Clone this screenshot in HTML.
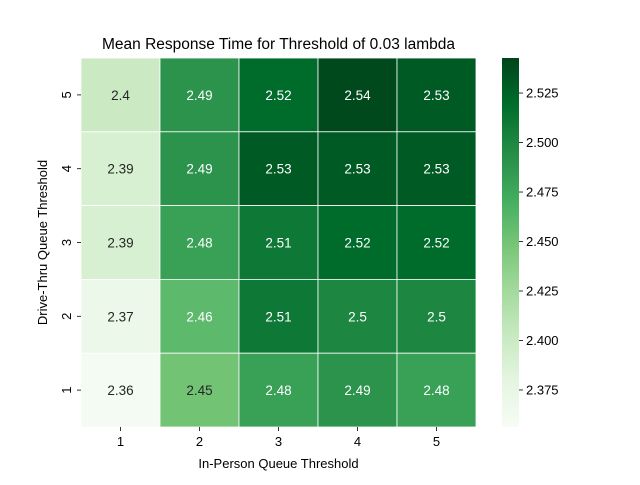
<!DOCTYPE html>
<html><head><meta charset="utf-8"><style>
body{margin:0;background:#fff;}
svg{font-family:"Liberation Sans","DejaVu Sans",sans-serif;}
</style></head><body>
<svg id="chart" width="640" height="480"></svg>
<script>
const xCategories=[1,2,3,4,5];
const yCategories=[5,4,3,2,1];
const cellValues=[
[2.40,2.49,2.52,2.54,2.53],
[2.39,2.49,2.53,2.53,2.53],
[2.39,2.48,2.51,2.52,2.52],
[2.37,2.46,2.51,2.50,2.50],
[2.36,2.45,2.48,2.49,2.48]];
const cellLabels=[
["2.4","2.49","2.52","2.54","2.53"],
["2.39","2.49","2.53","2.53","2.53"],
["2.39","2.48","2.51","2.52","2.52"],
["2.37","2.46","2.51","2.5","2.5"],
["2.36","2.45","2.48","2.49","2.48"]];
const colorbarTicks=[2.375,2.4,2.425,2.45,2.475,2.5,2.525];
const vmin=2.3563, vmax=2.5427;

const NS="http://www.w3.org/2000/svg";
const svg=document.getElementById('chart');
function mk(t,a,txt){const e=document.createElementNS(NS,t);for(const k in a)e.setAttribute(k,a[k]);if(txt!==undefined)e.textContent=txt;svg.appendChild(e);return e;}
const L=81,R=476,T=58,B=427;
const cw=(R-L)/xCategories.length, ch=(B-T)/yCategories.length;
const stops=["#f7fcf5","#e5f5e0","#c7e9c0","#a1d99b","#74c476","#41ab5d","#238b45","#006d2c","#00441b"].map(h=>[parseInt(h.slice(1,3),16),parseInt(h.slice(3,5),16),parseInt(h.slice(5,7),16)]);
function cmap(v){let t=Math.max(0,Math.min(1,(v-vmin)/(vmax-vmin)))*8;let i=Math.min(7,Math.floor(t));let f=t-i;const c=stops[i].map((s,k)=>Math.round(s+(stops[i+1][k]-s)*f));return c;}
function lum(c){const l=c.map(x=>{x/=255;return x<=0.03928?x/12.92:Math.pow((x+0.055)/1.055,2.4)});return 0.2126*l[0]+0.7152*l[1]+0.0722*l[2];}
function xs(i){return L+i*cw;} function ys(j){return T+j*ch;}
yCategories.forEach((yc,j)=>{xCategories.forEach((xc,i)=>{
 const c=cmap(cellValues[j][i]);
 const r=mk('rect',{x:xs(i),y:ys(j),width:cw,height:ch,fill:`rgb(${c})`,stroke:'#fff','stroke-width':0.8});
 
 
 const t=mk('text',{x:xs(i)+cw/2,y:ys(j)+ch/2+5,'text-anchor':'middle','font-size':13.5,fill:lum(c)>0.408?'#262626':'#fff'},cellLabels[j][i]);
 
 
});});
xCategories.forEach((xc,i)=>{const x=xs(i)+cw/2;
 mk('line',{x1:x,x2:x,y1:B,y2:B+4,stroke:'#000','stroke-width':0.8});
 const t=mk('text',{x:x,y:B+19,'text-anchor':'middle','font-size':13},xc);
 });
yCategories.forEach((yc,j)=>{const y=ys(j)+ch/2;
 mk('line',{x1:L-4,x2:L,y1:y,y2:y,stroke:'#000','stroke-width':0.8});
 const t=mk('text',{x:0,y:0,'text-anchor':'middle','font-size':13,transform:`translate(${L-10},${y}) rotate(-90)`},yc);
 });
const title=mk('text',{x:(L+R)/2,y:49,'text-anchor':'middle','font-size':15.5},'Mean Response Time for Threshold of 0.03 lambda');

const xl=mk('text',{x:(L+R)/2,y:468,'text-anchor':'middle','font-size':13},'In-Person Queue Threshold');

const yl=mk('text',{x:0,y:0,'text-anchor':'middle','font-size':13,transform:`translate(47,${(T+B)/2}) rotate(-90)`},'Drive-Thru Queue Threshold');

// colorbar
const CL=502,CW=17;
const defs=mk('defs',{});
const g=document.createElementNS(NS,'linearGradient');g.setAttribute('id','cb');g.setAttribute('x1',0);g.setAttribute('y1',1);g.setAttribute('x2',0);g.setAttribute('y2',0);defs.appendChild(g);
stops.forEach((s,k)=>{const st=document.createElementNS(NS,'stop');st.setAttribute('offset',k/8);st.setAttribute('stop-color',`rgb(${s})`);g.appendChild(st);});
const cb=mk('rect',{x:CL,y:T,width:CW,height:B-T,fill:'url(#cb)'});

function cy(v){return B-(v-vmin)/(vmax-vmin)*(B-T);}
colorbarTicks.forEach(v=>{const y=cy(v);
 mk('line',{x1:CL+CW,x2:CL+CW+4,y1:y,y2:y,stroke:'#000','stroke-width':0.8});
 const t=mk('text',{x:CL+CW+7,y:y+4.5,'font-size':13},v.toFixed(3));
 });
</script>
</body></html>
